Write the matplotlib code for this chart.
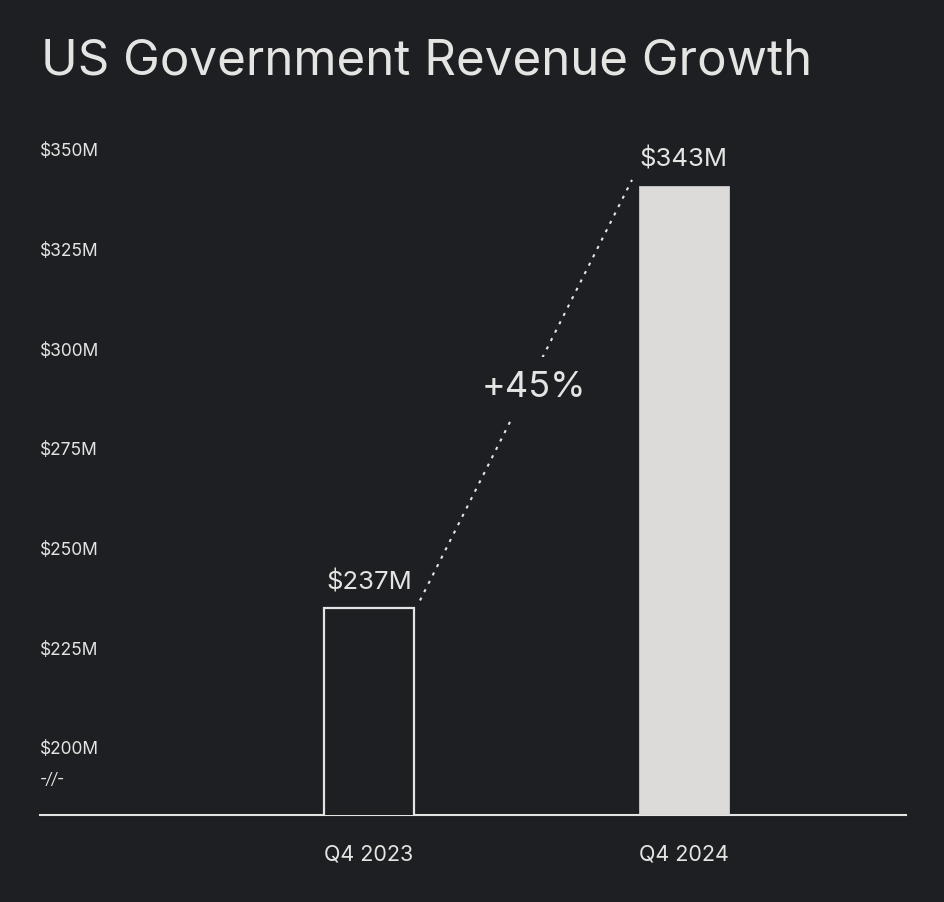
import numpy as np
import matplotlib.pyplot as plt
from matplotlib.transforms import ScaledTranslation

plt.rcParams['font.family'] = ['Inter', 'DejaVu Sans']

quarters = ['Q4 2023', 'Q4 2024']
revenue = [237, 343]
bar_labels = ['$237M', '$343M']
ytick_values = [200, 225, 250, 275, 300, 325, 350]
ytick_labels = ['$200M', '$225M', '$250M', '$275M', '$300M', '$325M', '$350M']
growth_label = '+45%'

bg = '#1d1f22'
fg = '#e4e4e2'
fill = '#dcdbd9'

fig = plt.figure(figsize=(9.44, 9.02), dpi=100, facecolor=bg)
ax = fig.add_axes([0.0424, 0.0965, 0.9173, 0.7505], facecolor=bg)

x = np.arange(len(quarters))
ax.bar(x[0], revenue[0], width=0.286, bottom=0, facecolor=bg, edgecolor=fg, linewidth=1.6, zorder=3)
ax.bar(x[1], revenue[1], width=0.286, bottom=0, facecolor=fill, edgecolor=fill, linewidth=0.5, zorder=3)

ax.set_xlim(-1.046, 1.707)
ax.set_ylim(185.2, 355)

for xi, v, lab in zip(x, revenue, bar_labels):
    ax.annotate(lab, (xi, v), xytext=(0, 10), textcoords='offset points',
                ha='center', va='bottom', color=fg, fontsize=18.5)

# dotted connector with gap for growth label
x0, x1 = x[0] + 0.162, x[1] - 0.164
ax.plot([x0, x1], [revenue[0] + 2, revenue[1] + 1.5], color=fg, linestyle=(0, (1.5, 3.0)),
        linewidth=1.5, zorder=2)
ax.text((x0 + x1) / 2 + 0.025, (revenue[0] + revenue[1]) / 2 + 2.5, growth_label, ha='center', va='center',
        color=fg, fontsize=26, zorder=4,
        bbox=dict(facecolor=bg, edgecolor='none', pad=10))

# y tick labels drawn inside plot area
ax.set_yticks([])
off = ScaledTranslation(0, 6 / 100, fig.dpi_scale_trans)
for v, lab in zip(ytick_values, ytick_labels):
    ax.text(0, v, lab, transform=ax.get_yaxis_transform() + off, ha='left', va='center',
            color=fg, fontsize=12.5)
ax.text(0.0, 192.7, '-//-', transform=ax.get_yaxis_transform() + off, ha='left', va='center',
        color=fg, fontsize=11, style='italic')

ax.set_xticks(x)
ax.set_xticklabels(quarters, color=fg, fontsize=15.5)
ax.tick_params(axis='x', length=0, pad=21)
for s in ['top', 'right', 'left']:
    ax.spines[s].set_visible(False)
ax.spines['bottom'].set_color(fg)
ax.spines['bottom'].set_linewidth(1.5)

fig.text(0.043, 0.932, 'US Government Revenue Growth', ha='left', va='center',
         color=fg, fontsize=35.5)

fig.savefig('out.png', dpi=100, facecolor=bg)
